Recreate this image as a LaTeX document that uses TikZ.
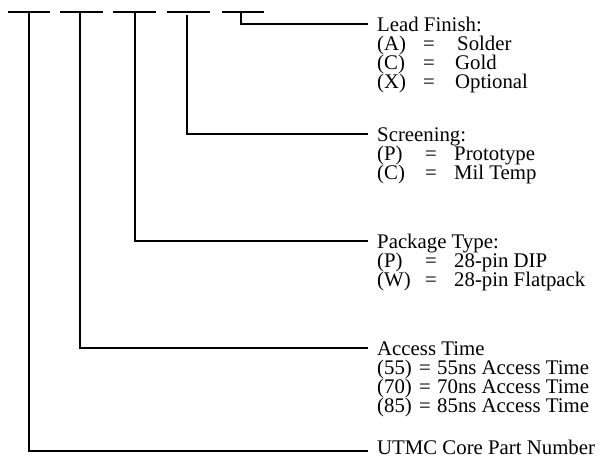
\documentclass[tikz,border=0pt]{standalone}
\usepackage{fontspec}
\setmainfont{Liberation Serif}
\begin{document}
\begin{tikzpicture}[x=1pt,y=-1pt,
  wire/.style={line width=2.2pt,line join=miter},
  head/.style={anchor=base west,inner xsep=9pt,inner ysep=0pt,text height=14pt,text depth=0pt,font=\fontsize{20.8}{19}\selectfont},
  txt/.style={anchor=base west,inner sep=0pt,font=\fontsize{20.8}{19}\selectfont}]
\useasboundingbox (0,0) rectangle (604,458);
% top bars
\foreach \a/\b [count=\i] in {8/50,60/103,113/156,167/210,222/264}{
  \coordinate (bl\i) at (\a,12);
  \coordinate (br\i) at (\b,12);
  \draw[wire] (bl\i) -- (br\i);
}
\coordinate (c1) at (29,12);
\coordinate (c2) at (80,12);
\coordinate (c3) at (135,12);
\coordinate (c4) at (187,15);
\coordinate (c5) at (241,12);
% headers
\node[head] (lead) at (368,31) {Lead Finish:};
\node[head] (scr) at (368,141) {Screening:};
\node[head] (pkg) at (368,248) {Package Type:};
\node[head] (acc) at (368,355) {Access Time};
\node[head,text height=6pt] (utmc) at (368,454) {UTMC Core Part Number};
% connectors
\draw[wire] (c5) |- (lead.west);
\draw[wire] (c4) |- (scr.west);
\draw[wire] (c3) |- (pkg.west);
\draw[wire] (c2) |- (acc.west);
\draw[wire] (c1) |- (utmc.west);
% Lead finish entries
\node[txt] (la) at (377,50) {(A)}; \node[txt] (lae) at (423,50) {=}; \node[txt] (lav) at (457,50) {Solder};
\node[txt] (lc) at (377,69) {(C)}; \node[txt] (lce) at (423,69) {=}; \node[txt] (lcv) at (455,69) {Gold};
\node[txt] (lx) at (377,88) {(X)}; \node[txt] (lxe) at (423,88) {=}; \node[txt] (lxv) at (455,88) {Optional};
% Screening entries
\node[txt] (sp) at (377,160) {(P)}; \node[txt] (spe) at (425,160) {=}; \node[txt] (spv) at (454,160) {Prototype};
\node[txt] (sc) at (377,179) {(C)}; \node[txt] (sce) at (425,179) {=}; \node[txt] (scv) at (454,179) {Mil Temp};
% Package entries
\node[txt] (pp) at (377,267) {(P)}; \node[txt] (ppe) at (425,267) {=}; \node[txt] (ppv) at (454,267) {28-pin DIP};
\node[txt] (pw) at (377,286) {(W)}; \node[txt] (pwe) at (425,286) {=}; \node[txt] (pwv) at (454,286) {28-pin Flatpack};
% Access entries
\node[txt] (a55) at (377,374) {(55)}; \node[txt] (a55e) at (419,374) {=}; \node[txt] (a55v) at (437,374) {55ns Access Time};
\node[txt] (a70) at (377,393) {(70)}; \node[txt] (a70e) at (419,393) {=}; \node[txt] (a70v) at (437,393) {70ns Access Time};
\node[txt] (a85) at (377,412) {(85)}; \node[txt] (a85e) at (419,412) {=}; \node[txt] (a85v) at (437,412) {85ns Access Time};
\end{tikzpicture}
\end{document}
